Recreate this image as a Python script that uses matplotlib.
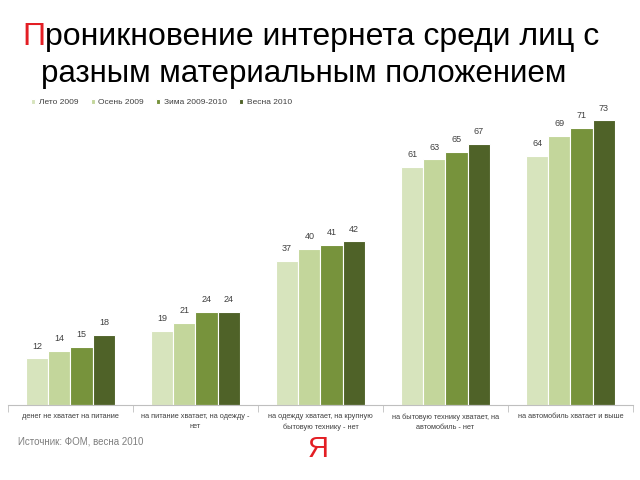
import matplotlib.pyplot as plt
import numpy as np

plt.rcParams['font.family'] = ['Liberation Sans', 'DejaVu Sans']

categories = ['денег не хватает на питание',
              'на питание хватает, на одежду -\nнет',
              'на одежду хватает, на крупную\nбытовую технику - нет',
              'на бытовую технику хватает, на\nавтомобиль - нет',
              'на автомобиль хватает и выше']
series = ['Лето 2009', 'Осень 2009', 'Зима 2009-2010', 'Весна 2010']
leto = [12, 19, 37, 61, 64]
osen = [14, 21, 40, 63, 69]
zima = [15, 24, 41, 65, 71]
vesna = [18, 24, 42, 67, 73]
colors = ['#d7e4bd', '#c3d69b', '#77933c', '#4f6228']

fig = plt.figure(figsize=(6.4, 4.8), dpi=100)
ax = fig.add_axes([0.0125, 0.156, 0.9765, 0.65])

x = np.arange(len(categories))
w = 0.178
for i, (vals, name) in enumerate(zip([leto, osen, zima, vesna], series)):
    pos = x + (i - 1.5) * w
    ax.bar(pos, vals, w, color=colors[i], edgecolor='white', linewidth=0.8,
           label=name)
    for p, v in zip(pos, vals):
        ax.text(p, v + 2, str(v), ha='center', va='bottom', fontsize=6.5,
                color='#404040')

ax.set_xlim(-0.5, len(categories) - 0.5)
ax.set_ylim(0, 80)
for s in ['top', 'right', 'left']:
    ax.spines[s].set_visible(False)
ax.spines['bottom'].set_color('#bfbfbf')
ax.set_yticks([])
ax.set_xticks(x)
ax.set_xticklabels(categories, fontsize=5.3, color='#404040', linespacing=1.6)
ax.tick_params(axis='x', which='major', length=0, pad=6)
ax.set_xticks(np.arange(len(categories) + 1) - 0.5, minor=True)
ax.tick_params(axis='x', which='minor', length=5, color='#bfbfbf')

ax.legend(loc='upper left', bbox_to_anchor=(0.025, 1.005), ncol=4, frameon=False,
          fontsize=6, handlelength=0.5, handleheight=0.5, columnspacing=1.5,
          handletextpad=0.4, labelcolor='#404040')

t1 = fig.text(22 / 640, 1 - 45 / 480, 'П', fontsize=23, color='#e31e24',
              ha='left', va='baseline')
fig.canvas.draw()
ax.annotate('роникновение интернета среди лиц с', xy=(1, 0), xycoords=t1,
            fontsize=23, color='black', ha='left', va='bottom')
fig.text(304 / 640, 1 - 82 / 480, 'разным материальным положением',
         fontsize=22.5, ha='center', va='baseline')

fig.text(18 / 640, 1 - 444 / 480, 'Источник: ФОМ, весна 2010', fontsize=7,
         color='#7f7f7f', ha='left', va='baseline')
fig.text(318 / 640, 1 - 457 / 480, 'Я', fontsize=21, color='#e31e24',
         ha='center', va='baseline')

fig.savefig('out.png', dpi=100)
